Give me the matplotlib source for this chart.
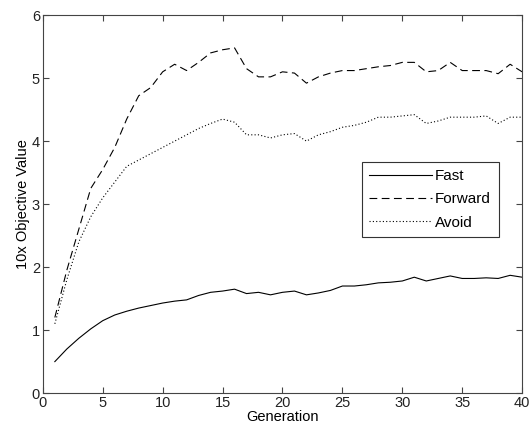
import matplotlib
matplotlib.use('Agg')
import matplotlib.pyplot as plt

plt.rcParams['font.family'] = ['Liberation Sans', 'DejaVu Sans']

# Data
generation = list(range(1, 41))
fast = [0.50, 0.70, 0.87, 1.02, 1.15, 1.24, 1.30, 1.35, 1.39, 1.43,
        1.46, 1.48, 1.55, 1.60, 1.62, 1.65, 1.58, 1.60, 1.56, 1.60,
        1.62, 1.56, 1.59, 1.63, 1.70, 1.70, 1.72, 1.75, 1.76, 1.78,
        1.84, 1.78, 1.82, 1.86, 1.82, 1.82, 1.83, 1.82, 1.87, 1.84]
forward = [1.20, 1.95, 2.60, 3.25, 3.55, 3.90, 4.35, 4.72, 4.85, 5.10,
           5.22, 5.12, 5.25, 5.40, 5.45, 5.48, 5.15, 5.02, 5.02, 5.10,
           5.08, 4.92, 5.02, 5.08, 5.12, 5.12, 5.15, 5.18, 5.20, 5.25,
           5.25, 5.10, 5.12, 5.25, 5.12, 5.12, 5.12, 5.07, 5.22, 5.10]
avoid = [1.10, 1.80, 2.40, 2.80, 3.10, 3.35, 3.60, 3.70, 3.80, 3.90,
         4.00, 4.10, 4.20, 4.28, 4.35, 4.30, 4.10, 4.10, 4.05, 4.10,
         4.12, 4.00, 4.10, 4.15, 4.22, 4.25, 4.30, 4.38, 4.38, 4.40,
         4.42, 4.28, 4.32, 4.38, 4.38, 4.38, 4.40, 4.28, 4.38, 4.38]

fig = plt.figure(figsize=(5.29, 4.32), dpi=100)
ax = fig.add_axes([0.081, 0.090, 0.906, 0.875])

ax.plot(generation, fast, color='black', linewidth=0.8, linestyle='-', label='Fast')
ax.plot(generation, forward, color='black', linewidth=0.8, linestyle=(0, (7, 4)), label='Forward')
ax.plot(generation, avoid, color='black', linewidth=0.8, linestyle=(0, (1, 2)), label='Avoid')

ax.set_xlim(0, 40)
ax.set_ylim(0, 6)
ax.set_xticks(range(0, 41, 5))
ax.set_yticks(range(0, 7))

# MATLAB-like axes
for side in ax.spines.values():
    side.set_color('#444444')
    side.set_linewidth(0.8)
ax.tick_params(direction='in', top=True, right=True, length=4,
               color='#444444', labelsize=10.5, labelcolor='#222222', pad=2)

ax.set_xlabel('Generation', fontsize=10.5, labelpad=0)
ax.set_ylabel('10x Objective Value', fontsize=10.5, labelpad=1)

leg = ax.legend(loc='lower right', bbox_to_anchor=(0.967, 0.392), fontsize=11,
                fancybox=False, framealpha=1, edgecolor='#333333',
                handlelength=4.1, handletextpad=0.2, borderpad=0.5,
                labelspacing=0.6)
leg.get_frame().set_linewidth(0.8)

fig.savefig('out.png', dpi=100)
